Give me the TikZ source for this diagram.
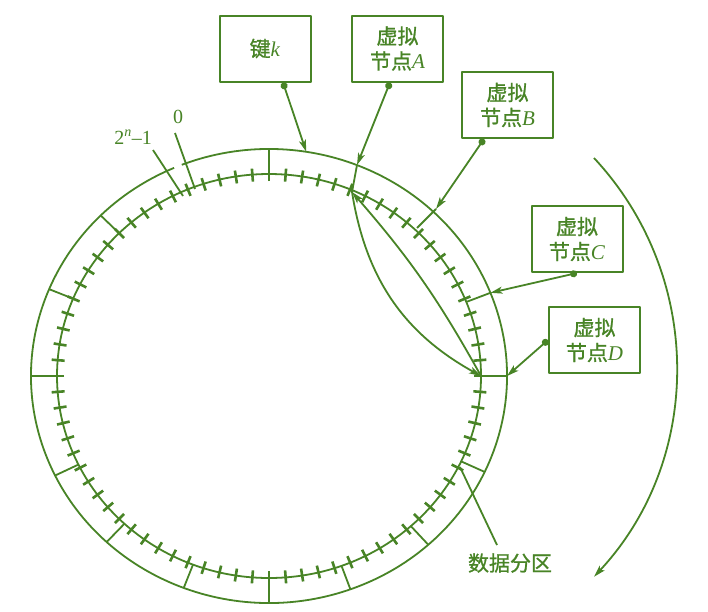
\documentclass[tikz,border=0pt]{standalone}
\usepackage{fontspec}
\setmainfont{Liberation Serif}
\newfontfamily\cjk[FakeBold=1]{Noto Sans CJK SC}
\usetikzlibrary{arrows.meta,calc}
\definecolor{gr}{RGB}{72,132,38}
\begin{document}
\begin{tikzpicture}[x=1pt,y=-1pt,line join=round,
  ring/.style={draw=gr,line width=1.8pt},
  tickmark/.style={draw=gr,line width=2.6pt},
  box/.style={draw=gr,line width=2pt,minimum width=91pt,minimum height=66pt,inner sep=0pt,
    text=gr,align=center,font=\fontsize{21}{25}\selectfont},
  tip/.style={-{Stealth[length=12pt,width=7pt,inset=3pt]}},
  ptr/.style={draw=gr,line width=1.8pt,{Circle[length=7pt]}-{Stealth[length=12pt,width=7pt,inset=3pt]}},
  lbl/.style={text=gr,inner sep=0pt}]
\fill[white] (0,0) rectangle (708,611);
\useasboundingbox (0,0) rectangle (708,611);
\coordinate (O) at (269,376);
% ring
\draw[ring] (O) ellipse [x radius=212, y radius=202];
\draw[ring] ($(O)+(-111.5:238 and 227)$) arc [start angle=-111.5, end angle=246.5, x radius=238, y radius=227];
% ticks
\foreach \t in {0,4.5,...,356} \draw[tickmark] ($(O)+(-\t:205 and 195)$) -- ($(O)+(-\t:218 and 208)$);
% partition dividers
\foreach \t in {0,21.5,90,135,157.5,180,206,227,249,270,290,312,335}
  \draw[ring] ($(O)+(-\t:212 and 202)$) -- ($(O)+(-\t:238 and 227)$);
\coordinate (aO) at (357,165); \coordinate (ai) at (352,192);
\coordinate (bO) at (436,209); \coordinate (bi) at (417,228);
\draw[ring] (aO) -- (ai);
\draw[ring] (bO) -- (bi);
\coordinate (kT) at ($(O)+(-81:238 and 227)$);
\coordinate (cT) at ($(O)+(-21.5:238 and 227)$);
\coordinate (dT) at ($(O)+(0:238 and 227)$);
\coordinate (di) at ($(O)+(0:212 and 202)$);
% boxes
\node[box] (K) at (265,48.5) {{\cjk 键}\textit{k}};
\node[box] (A) at (397.5,48.5) {{\cjk 虚拟}\\{\cjk 节点}\textit{A}};
\node[box] (B) at (507.5,105) {{\cjk 虚拟}\\{\cjk 节点}\textit{B}};
\node[box] (Cn) at (577,239) {{\cjk 虚拟}\\{\cjk 节点}\textit{C}};
\node[box] (D) at (594.5,340) {{\cjk 虚拟}\\{\cjk 节点}\textit{D}};
% pointers
\draw[ptr] ([xshift=18pt]K.south) -- (kT);
\draw[ptr] ([xshift=-7.5pt]A.south) -- (aO);
\draw[ptr] ([xshift=-23.5pt]B.south) -- (bO);
\draw[ptr] (Cn.south) -- (cT);
\draw[ptr] (D.west) -- (dT);
% inner curved arrows
\draw[draw=gr,line width=1.8pt,tip] (ai) to[bend right=26] (di);
\draw[draw=gr,line width=1.8pt,tip] (di) to[bend right=6] (ai);
% 0 and 2^n-1 markers
\node[lbl,font=\fontsize{20}{20}\selectfont] (l2) at (133,137) {2\textsuperscript{\itshape n}–1};
\node[lbl,font=\fontsize{20}{20}\selectfont] (l0) at (178,117) {0};
\coordinate (m2a) at (153,150); \coordinate (m2b) at (183,196);
\coordinate (m0a) at (175,133); \coordinate (m0b) at (195,189);
\draw[ring] (m2a) -- (m2b);
\draw[ring] (m0a) -- (m0b);
% data partition label
\node[lbl,font=\fontsize{21}{21}\selectfont\cjk] (dp) at (510,563) {数据分区};
\coordinate (dpa) at (497,545); \coordinate (dpb) at (460,467);
\draw[ring] (dpa) -- (dpb);
% rotation arrow
\coordinate (r0) at (594,158);
\draw[draw=gr,line width=1.8pt,tip] (r0) arc [start angle=-43, end angle=43, radius=307];
\end{tikzpicture}
\end{document}
